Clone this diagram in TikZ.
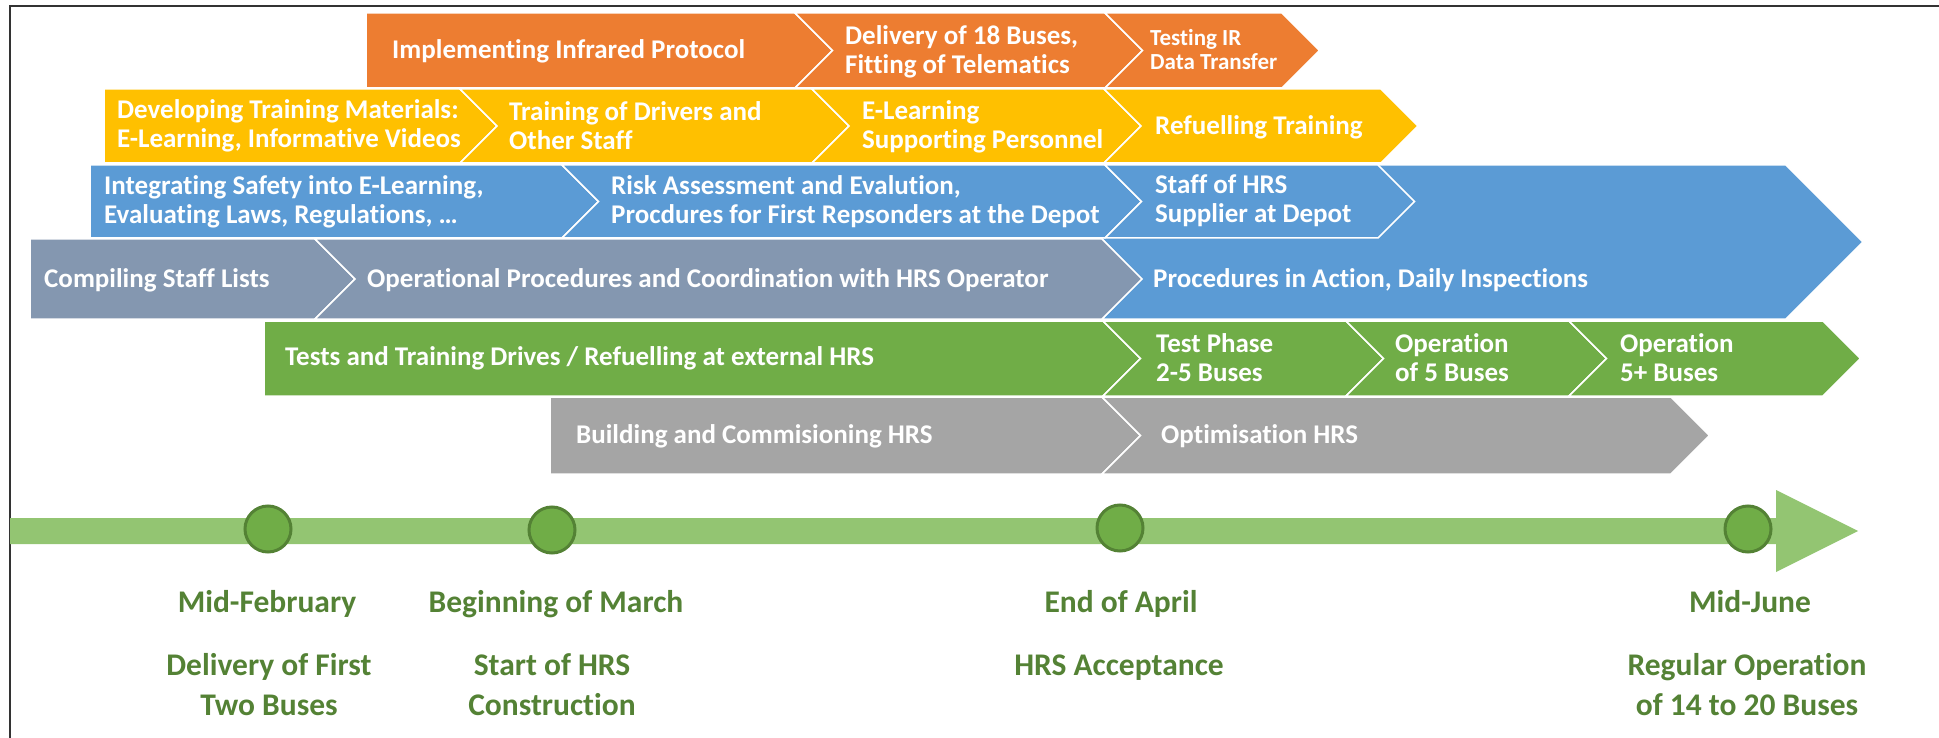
\documentclass[tikz,border=0pt]{standalone}
\usepackage{fontspec}
\setmainfont{Carlito}[Ligatures=NoCommon]
\usetikzlibrary{positioning}

\definecolor{phorange}{HTML}{ED7D31}
\definecolor{phyellow}{HTML}{FFC000}
\definecolor{phblue}{HTML}{5B9BD5}
\definecolor{phslate}{HTML}{8497B0}
\definecolor{phgreen}{HTML}{70AD47}
\definecolor{phgray}{HTML}{A5A5A5}
\definecolor{barlight}{HTML}{93C572}
\definecolor{darkgreen}{HTML}{548235}

\tikzset{
  seg/.style={draw=white,line width=1.5pt,line join=miter},
  segtext/.style={text=white,font=\bfseries\fontsize{27}{29}\selectfont,anchor=west,align=left,inner sep=0pt},
  segsmall/.style={segtext,font=\bfseries\fontsize{23}{24}\selectfont},
  milestone/.style={circle,draw=darkgreen,line width=3pt,fill=phgreen,minimum size=46pt,inner sep=0pt},
  datetext/.style={text=darkgreen,font=\bfseries\fontsize{31.5}{40}\selectfont,align=center,inner sep=0pt,anchor=base}
}

% chevron: colour, left, right, top, bottom, notch (0/1)
\newcommand{\segbox}[6]{%
  \pgfmathsetmacro{\segmid}{(#4+#5)/2}%
  \pgfmathsetmacro{\segtip}{#3+(#5-#4)/2}%
  \pgfmathsetmacro{\segin}{#2+#6*(#5-#4)/2}%
  \filldraw[seg,fill=#1] (#2,#4) -- (#3,#4) -- (\segtip,\segmid) -- (#3,#5) -- (#2,#5) -- (\segin,\segmid) -- cycle;}

\begin{document}
\begin{tikzpicture}[x=1pt,y=-1pt]
    \useasboundingbox (0,0) rectangle (1939,738);
    \draw[line width=2pt,black!80] (10,738) -- (10,6) -- (1939,6);

    % infrared
    \segbox{phorange}{366}{795}{13}{88}{0}
    \segbox{phorange}{795}{1105}{13}{88}{1}
    \segbox{phorange}{1105}{1282}{13}{88}{1}
    \node[segtext] (ir1) at (392,51) {Implementing Infrared Protocol};
    \node[segtext] (ir2) at (845,52) {Delivery of 18 Buses,\\Fitting of Telematics};
    \node[segsmall] (ir3) at (1150,50) {Testing IR\\Data Transfer};

    % training
    \segbox{phyellow}{104}{460}{89}{163}{0}
    \segbox{phyellow}{460}{812}{89}{163}{1}
    \segbox{phyellow}{812}{1104}{89}{163}{1}
    \segbox{phyellow}{1104}{1381}{89}{163}{1}
    \node[segtext] (tr1) at (117,126) {Developing Training Materials:\\E-Learning, Informative Videos};
    \node[segtext] (tr2) at (509,126) {Training of Drivers and\\Other Staff};
    \node[segtext] (tr3) at (862,127) {E-Learning\\Supporting Personnel};
    \node[segtext] (tr4) at (1155,127) {Refuelling Training};

    % safety and procedures
    \filldraw[seg,fill=phblue] (1102,165) -- (1786,165) -- (1863,242) -- (1786,319) -- (1102,319) -- (1141,279) -- (1102,239) -- cycle;
    \segbox{phblue}{90}{562}{165}{238}{0}
    \segbox{phblue}{562}{1105}{165}{238}{1}
    \segbox{phblue}{1105}{1378}{165}{238}{1}
    \node[segtext] (sf1) at (104,202) {Integrating Safety into E-Learning,\\Evaluating Laws, Regulations, \dots};
    \node[segtext] (sf2) at (611,202) {Risk Assessment and Evalution,\\Procdures for First Repsonders at the Depot};
    \node[segtext] (sf3) at (1155,201) {Staff of HRS\\Supplier at Depot};

    \segbox{phslate}{30}{315}{239}{319}{0}
    \segbox{phslate}{315}{1102}{239}{319}{1}
    \node[segtext] (op1) at (44,280) {Compiling Staff Lists};
    \node[segtext] (op2) at (367,280) {Operational Procedures and Coordination with HRS Operator};
    \node[segtext] (op3) at (1153,280) {Procedures in Action, Daily Inspections};

    % buses
    \segbox{phgreen}{264}{1103}{321}{396}{0}
    \segbox{phgreen}{1103}{1346}{321}{396}{1}
    \segbox{phgreen}{1346}{1569}{321}{396}{1}
    \segbox{phgreen}{1569}{1823}{321}{396}{1}
    \node[segtext] (bs1) at (285,358) {Tests and Training Drives / Refuelling at external HRS};
    \node[segtext] (bs2) at (1156,358) {Test Phase\\2-5 Buses};
    \node[segtext] (bs3) at (1395,358) {Operation\\of 5 Buses};
    \node[segtext] (bs4) at (1620,358) {Operation\\5+ Buses};

    % station
    \segbox{phgray}{550}{1102}{397}{474}{0}
    \segbox{phgray}{1102}{1671}{397}{474}{1}
    \node[segtext] (hs1) at (576,436) {Building and Commisioning HRS};
    \node[segtext] (hs2) at (1161,436) {Optimisation HRS};

    % timeline
    \fill[barlight] (10,518) -- (1776,518) -- (1776,490) -- (1858,531) -- (1776,572) -- (1776,544) -- (10,544) -- cycle;
    \node[milestone] (ms1) at (268,529) {};
    \node[milestone] (ms2) at (552,530) {};
    \node[milestone] (ms3) at (1120,528) {};
    \node[milestone] (ms4) at (1748,529) {};

    \node[datetext] (dt1) at (267,612) {Mid-February};
    \node[datetext] (dt2) at (556,612) {Beginning of March};
    \node[datetext] (dt3) at (1121,612) {End of April};
    \node[datetext] (dt4) at (1750,612) {Mid-June};
    \node[datetext] (ev1) at (269,715) {Delivery of First\\Two Buses};
    \node[datetext] (ev2) at (552,715) {Start of HRS\\Construction};
    \node[datetext] (ev3) at (1119,675) {HRS Acceptance};
    \node[datetext] (ev4) at (1747,715) {Regular Operation\\of 14 to 20 Buses};
\end{tikzpicture}
\end{document}
